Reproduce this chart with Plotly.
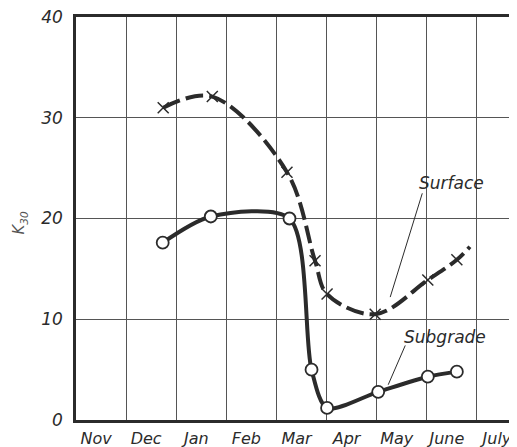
import plotly.graph_objects as go

# month axis: 0 = start of November, one unit per month
months = ["Nov", "Dec", "Jan", "Feb", "Mar", "Apr", "May", "June", "July"]

# surface K30 (last point is the end of the drawn curve, no marker)
surface_x = [1.74, 2.72, 4.21, 4.77, 5.01, 5.97, 7.02, 7.60, 7.86]
surface_y = [31.0, 32.1, 24.6, 15.8, 12.5, 10.5, 13.9, 15.9, 17.2]

# subgrade K30
subgrade_x = [1.73, 2.69, 4.26, 4.70, 5.01, 6.03, 7.02, 7.60]
subgrade_y = [17.6, 20.2, 20.0, 5.0, 1.2, 2.8, 4.3, 4.8]

INK = "#2b2b2b"
GRID = "#555555"
FONT = "DejaVu Sans"

fig = go.Figure()

# curves
fig.add_trace(go.Scatter(x=surface_x, y=surface_y, mode="lines",
                         line=dict(color=INK, width=4, shape="spline", smoothing=1.0,
                                   dash="18px,6px"),
                         hoverinfo="skip", showlegend=False))
fig.add_trace(go.Scatter(x=subgrade_x, y=subgrade_y, mode="lines",
                         line=dict(color=INK, width=4, shape="spline", smoothing=0.8),
                         hoverinfo="skip", showlegend=False))

# markers
fig.add_trace(go.Scatter(x=surface_x[:-1], y=surface_y[:-1], mode="markers",
                         marker=dict(symbol="x-thin", size=11, color=INK,
                                     line=dict(color=INK, width=1.5)),
                         name="Surface", showlegend=False))
fig.add_trace(go.Scatter(x=subgrade_x, y=subgrade_y, mode="markers",
                         marker=dict(symbol="circle", size=12, color="white",
                                     line=dict(color=INK, width=1.8)),
                         name="Subgrade", showlegend=False))

# labels with leader lines; a white patch blanks the grid behind each label
labels = [
    # text, text x, text y, leader start, leader end, blank box (x0, x1, y0, y1)
    ("Surface", 7.50, 23.5, (6.91, 22.5), (6.27, 12.2), (6.65, 8.3, 20.3, 25.8)),
    ("Subgrade", 7.37, 8.2, (6.57, 7.4), (6.23, 3.5), (6.40, 8.3, 6.5, 9.75)),
]
for txt, tx, ty, (x0, y0), (x1, y1), (bx0, bx1, by0, by1) in labels:
    fig.add_shape(type="rect", x0=bx0, x1=bx1, y0=by0, y1=by1, layer="below",
                  fillcolor="white", line=dict(width=0))
    fig.add_shape(type="line", x0=x0, y0=y0, x1=x1, y1=y1,
                  line=dict(color=INK, width=1))
    fig.add_annotation(x=tx, y=ty, text=txt, showarrow=False,
                       font=dict(family=FONT, size=17, color=INK, style="italic"))

# y axis title
fig.add_annotation(xref="paper", yref="paper", x=-0.153, y=0.49,
                   text="K<sub>30</sub>", showarrow=False, textangle=-90,
                   font=dict(family=FONT, size=15, color="#555555", style="italic"))

fig.update_xaxes(range=[0, 8.8], automargin=False,
                 tickvals=[i + 0.4 for i in range(len(months))], ticktext=months,
                 showgrid=False, zeroline=False,
                 tickfont=dict(family=FONT, size=16, color=INK, style="italic"),
                 minor=dict(tickvals=list(range(1, len(months))), showgrid=True,
                            gridcolor=GRID, gridwidth=1, ticks=""),
                 showline=True, linecolor=INK, linewidth=2.5, mirror=True,
                 ticks="", ticklabelstandoff=2, ticklabeloverflow="allow")
fig.update_yaxes(range=[0, 40], tickvals=[0, 10, 20, 30, 40], automargin=False,
                 showgrid=True, gridcolor=GRID, gridwidth=1, zeroline=False,
                 tickfont=dict(family=FONT, size=17, color=INK, style="italic"),
                 showline=True, linecolor=INK, linewidth=2.5, mirror=False,
                 ticks="", ticklabelstandoff=7, ticklabeloverflow="allow")

# page body keeps its default 8px margin, so the figure is sized to fit inside it
fig.update_layout(width=509, height=439,
                  margin=dict(l=68, r=0, t=9, b=27, autoexpand=False),
                  plot_bgcolor="white", paper_bgcolor="white",
                  showlegend=False)

fig.write_html("out.html")
